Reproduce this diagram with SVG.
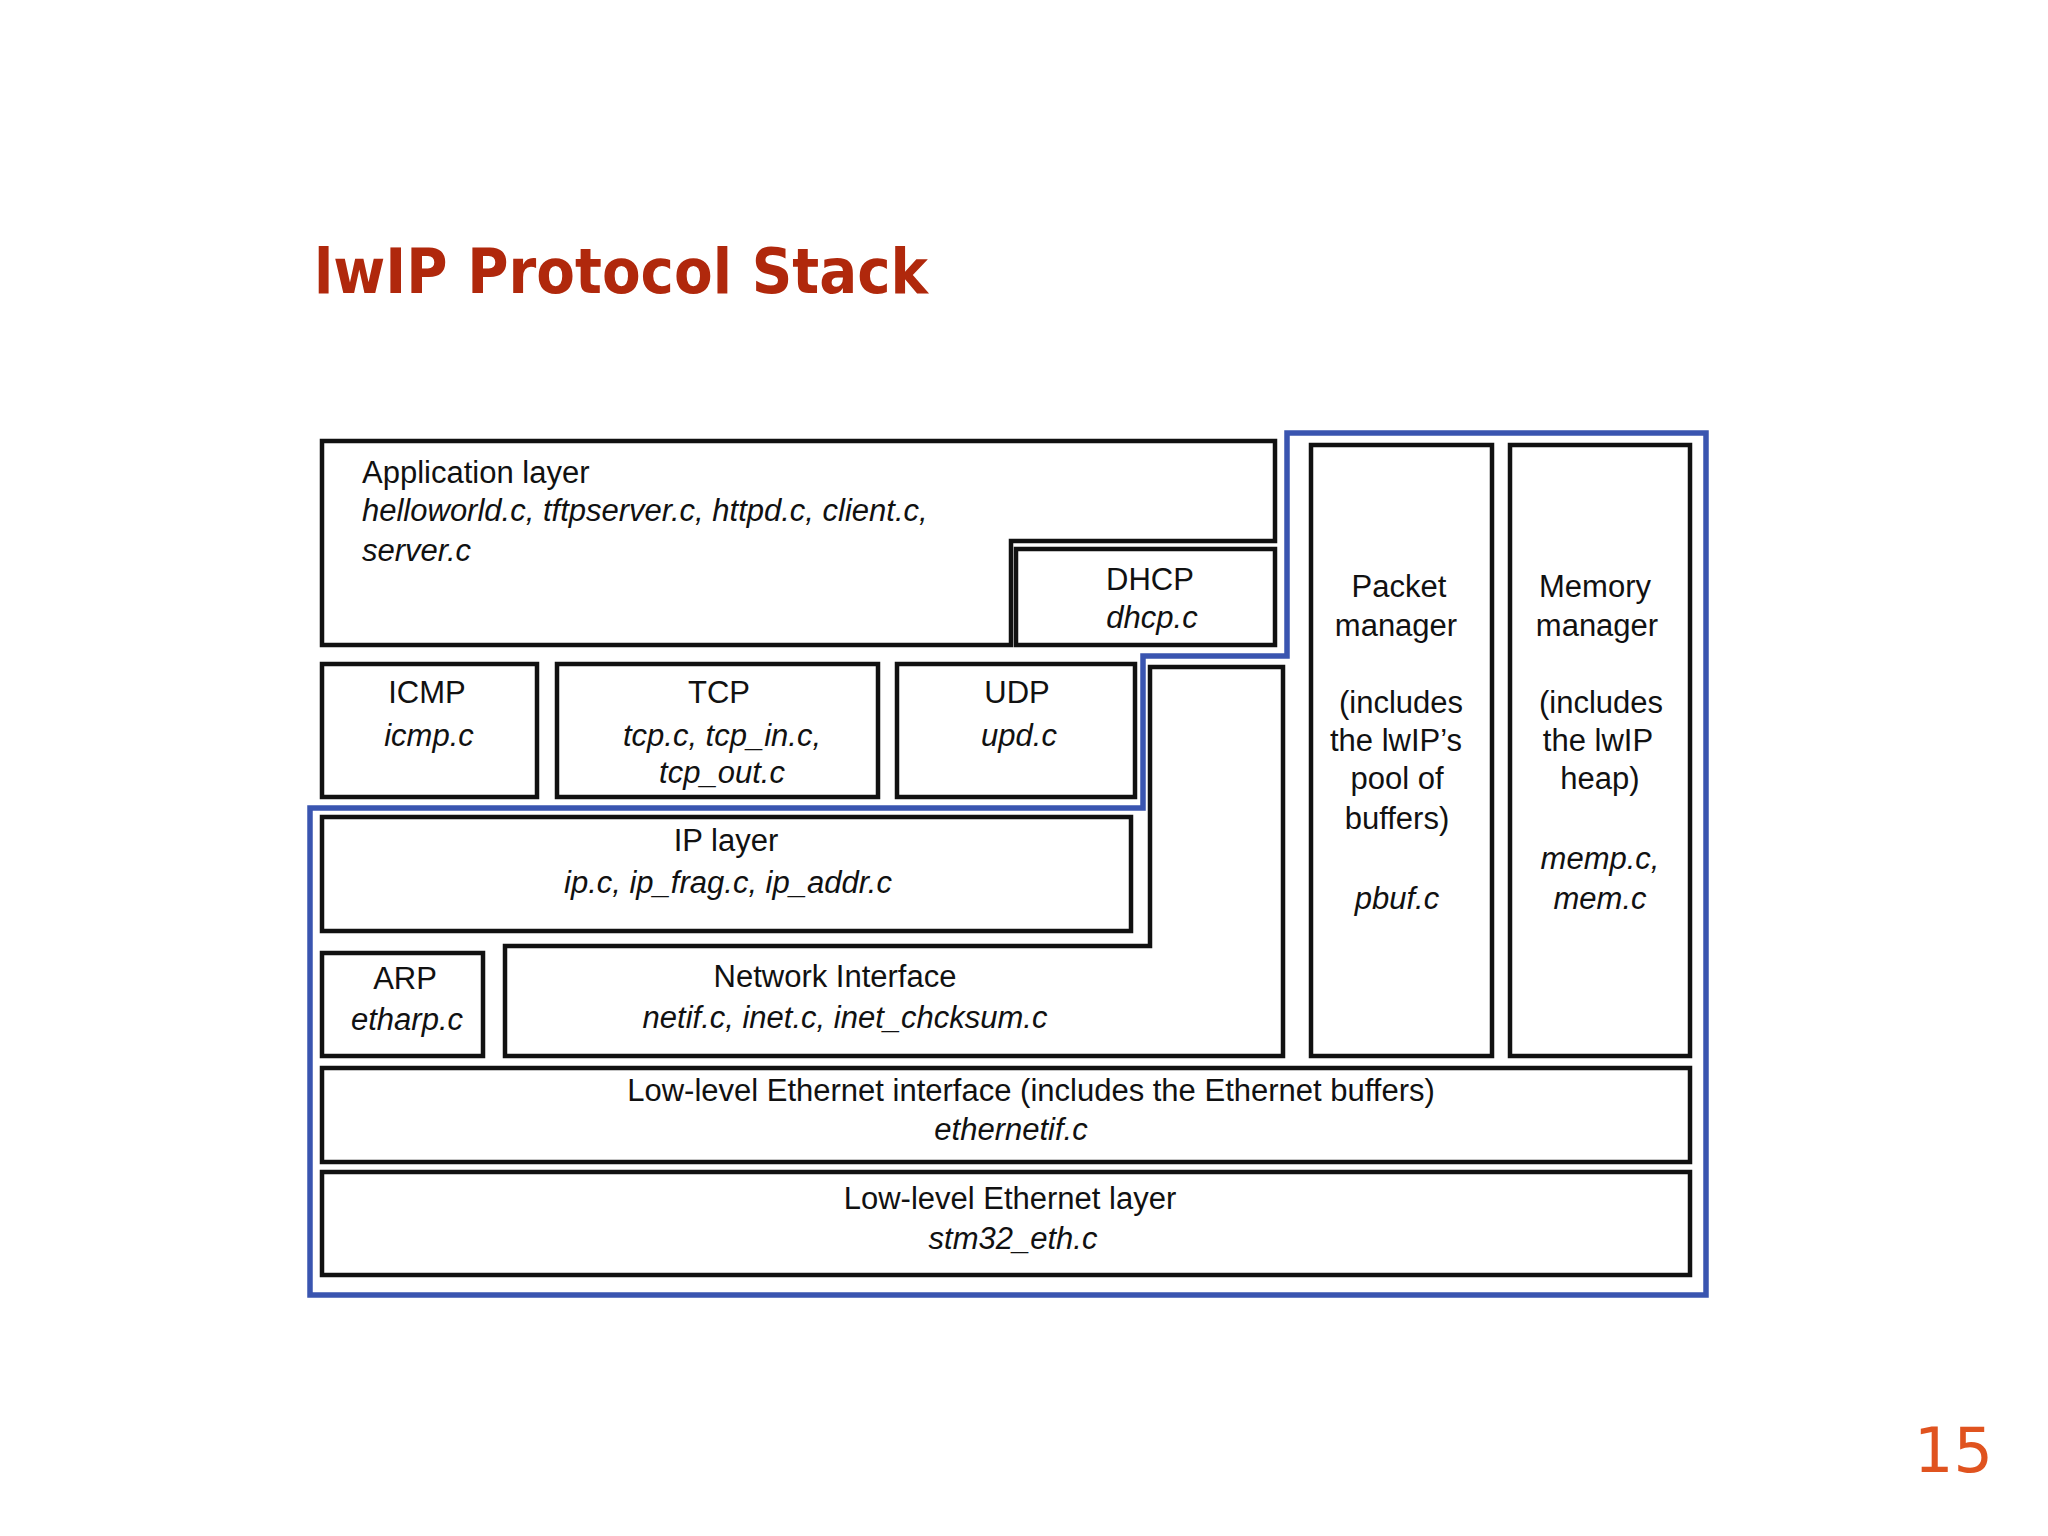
<svg xmlns="http://www.w3.org/2000/svg" width="2048" height="1536" viewBox="0 0 2048 1536">
<style>
.b{fill:none;stroke:#111;stroke-width:4.5}
.t{font-family:"Liberation Sans",Arial,sans-serif;font-size:31px;fill:#111;text-anchor:middle}
.l{text-anchor:start}
.i{font-style:italic}
</style>
<rect width="2048" height="1536" fill="#fff"/>
<text x="314" y="293" font-family="DejaVu Sans,Verdana,sans-serif" font-weight="bold" font-size="62" fill="#b0280c" textLength="614" lengthAdjust="spacingAndGlyphs">lwIP Protocol Stack</text>
<text x="1914" y="1472" font-family="DejaVu Sans,Verdana,sans-serif" font-size="62" fill="#e0531f">15</text>
<g id="outline"><polygon points="1287,433 1706,433 1706,1295 310,1295 310,808 1143,808 1143,656 1287,656" fill="none" stroke="#3a55b0" stroke-width="5.5"/></g>
<g id="app"><polygon class="b" points="322,441 1275,441 1275,541 1011,541 1011,645 322,645"/>
<text class="t l" x="362" y="483">Application layer</text>
<text class="t l i" x="362" y="521">helloworld.c, tftpserver.c, httpd.c, client.c,</text>
<text class="t l i" x="362" y="561">server.c</text></g>
<g id="dhcp"><rect class="b" x="1016" y="549" width="259" height="96"/>
<text class="t" x="1150" y="590">DHCP</text><text class="t i" x="1152" y="628">dhcp.c</text></g>
<g id="icmp"><rect class="b" x="322" y="664" width="215" height="133"/>
<text class="t" x="427" y="703">ICMP</text><text class="t i" x="429" y="746">icmp.c</text></g>
<g id="tcp"><rect class="b" x="557" y="664" width="321" height="133"/>
<text class="t" x="719" y="703">TCP</text><text class="t i" x="722" y="746">tcp.c, tcp_in.c,</text><text class="t i" x="722" y="783">tcp_out.c</text></g>
<g id="udp"><rect class="b" x="897" y="664" width="238" height="133"/>
<text class="t" x="1017" y="703">UDP</text><text class="t i" x="1019" y="746">upd.c</text></g>
<g id="ip"><rect class="b" x="322" y="817" width="809" height="114"/>
<text class="t" x="726" y="851">IP layer</text><text class="t i" x="728" y="893">ip.c, ip_frag.c, ip_addr.c</text></g>
<g id="netif"><polygon class="b" points="1150,667 1283,667 1283,1056 505,1056 505,946 1150,946"/>
<text class="t" x="835" y="987">Network Interface</text><text class="t i" x="845" y="1028">netif.c, inet.c, inet_chcksum.c</text></g>
<g id="arp"><rect class="b" x="322" y="953" width="161" height="103"/>
<text class="t" x="405" y="989">ARP</text><text class="t i" x="407" y="1030">etharp.c</text></g>
<g id="pbuf"><rect class="b" x="1311" y="445" width="181" height="611"/>
<text class="t" x="1399" y="597">Packet</text><text class="t" x="1396" y="636">manager</text>
<text class="t" x="1401" y="713">(includes</text><text class="t" x="1396" y="751">the lwIP’s</text><text class="t" x="1397" y="789">pool of</text><text class="t" x="1397" y="829">buffers)</text>
<text class="t i" x="1397" y="909">pbuf.c</text></g>
<g id="mem"><rect class="b" x="1510" y="445" width="180" height="611"/>
<text class="t" x="1595" y="597">Memory</text><text class="t" x="1597" y="636">manager</text>
<text class="t" x="1601" y="713">(includes</text><text class="t" x="1598" y="751">the lwIP</text><text class="t" x="1600" y="789">heap)</text>
<text class="t i" x="1600" y="869">memp.c,</text><text class="t i" x="1600" y="909">mem.c</text></g>
<g id="ethif"><rect class="b" x="322" y="1068" width="1368" height="94"/>
<text class="t" x="1031" y="1101">Low-level Ethernet interface (includes the Ethernet buffers)</text><text class="t i" x="1011" y="1140">ethernetif.c</text></g>
<g id="eth"><rect class="b" x="322" y="1172" width="1368" height="103"/>
<text class="t" x="1010" y="1209">Low-level Ethernet layer</text><text class="t i" x="1013" y="1249">stm32_eth.c</text></g>
<g id="connectors"/>
</svg>
